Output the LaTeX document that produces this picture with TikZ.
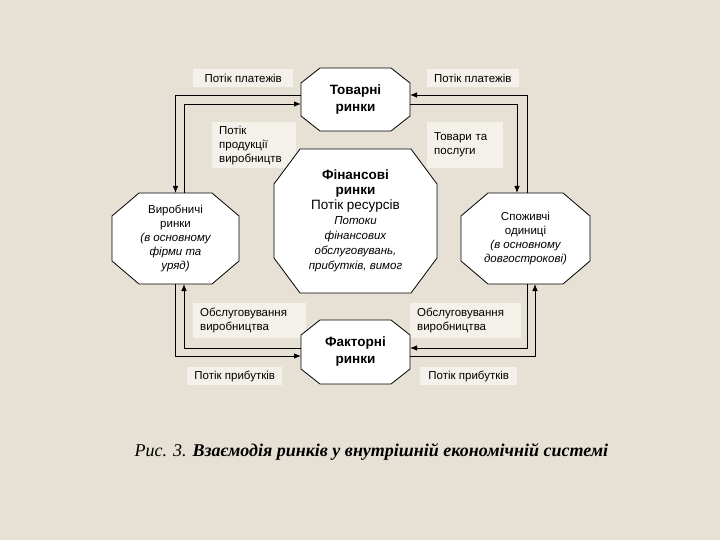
\documentclass[tikz,border=0pt]{standalone}
\usepackage{fontspec}
\setmainfont{Liberation Sans}
\newfontfamily\capfont{Liberation Serif}
\usetikzlibrary{arrows.meta}
\definecolor{bg}{HTML}{E7E0D4}
\definecolor{lbl}{HTML}{F4F1EB}
\newcommand\bigf{\fontsize{13.5}{16.5}\selectfont}
\newcommand\smf{\fontsize{11.5}{15}\selectfont}
\tikzset{
  oct/.style={draw=black, line width=0.8pt, fill=white},
  arr/.style={line width=0.8pt, -{Latex[length=7pt,width=5.5pt]}},
  lab/.style={fill=lbl, anchor=north west, align=left, inner xsep=7pt, inner ysep=3pt, font=\fontsize{11.5}{14}\selectfont},
  ttl/.style={align=center, font=\fontsize{13.5}{17}\selectfont\bfseries},
  hold/.style={inner sep=0pt, outer sep=0pt, draw=none}
}
% name, x1, y1, x2, y2, cx, cy
\newcommand\octshape[7]{%
  \draw[oct] ({#2+#6},#3) -- ({#4-#6},#3) -- (#4,{#3+#7}) -- (#4,{#5-#7}) -- ({#4-#6},#5) -- ({#2+#6},#5) -- (#2,{#5-#7}) -- (#2,{#3+#7}) -- cycle;
  \node[hold, minimum width={(#4-#2)*1pt}, minimum height={(#5-#3)*1pt}] (#1) at ({(#2+#4)/2},{(#3+#5)/2}) {};
}
\begin{document}
\begin{tikzpicture}[x=1pt,y=-1pt]
\fill[bg] (0,0) rectangle (720,540);
\useasboundingbox (0,0) rectangle (720,540);
% labels
\node[lab, minimum width=100pt, minimum height=18pt] (l1) at (193,69) {Потік платежів};
\node[lab, minimum width=91pt, minimum height=18pt] (l2) at (427,69) {Потік платежів};
\node[lab, minimum width=81pt, minimum height=46pt, text width=70pt] (l3) at (212,122) {Потік\\продукції\\виробництв};
\node[lab, minimum width=73pt, minimum height=46pt, text width=62pt] (l4) at (427,122) {Товари та\\послуги};
\node[lab, minimum width=110pt, minimum height=35pt, text width=99pt] (l5) at (193,303) {Обслуговування\\виробництва};
\node[lab, minimum width=108pt, minimum height=35pt, text width=97pt] (l6) at (410,303) {Обслуговування\\виробництва};
\node[lab, minimum width=95pt, minimum height=18pt] (l7) at (187,367) {Потік прибутків};
\node[lab, minimum width=97pt, minimum height=18pt] (l8) at (420,367) {Потік прибутків};
% octagons
\octshape{top}{301}{68}{410}{131}{19}{15}
\octshape{bot}{301}{320}{410}{384}{19}{15}
\octshape{ctr}{274}{149}{437}{293}{26}{35}
\octshape{left}{112}{193}{239}{284}{27}{23}
\octshape{right}{461}{193}{590}{284}{27}{23}
\node[ttl] (ttop) at (top) {Товарні\\ринки};
\node[ttl] (tbot) at (bot) {Факторні\\ринки};
\node[align=center, font=\smf] (tctr) at (ctr) {\bigf\bfseries Фінансові\\\bigf\bfseries ринки\\\bigf\mdseries Потік ресурсів\\\smf\mdseries\itshape Потоки\\\smf\itshape фінансових\\\smf\itshape обслуговувань,\\\smf\itshape прибутків, вимог};
\node[align=center, font=\fontsize{11.5}{14}\selectfont] (tleft) at (left) {Виробничі\\ринки\\\itshape (в основному\\\itshape фірми та\\\itshape уряд)};
\node[align=center, font=\fontsize{11.5}{14}\selectfont] (tright) at (right) {Споживчі\\одиниці\\\itshape (в основному\\\itshape довгострокові)};
% connectors
\draw[arr] ([yshift=4.5pt]top.west) -| (left.north);
\draw[arr] ([xshift=8.5pt]left.north) |- ([yshift=-4.5pt]top.west);
\draw[arr] ([xshift=1.5pt]right.north) |- ([yshift=4.5pt]top.east);
\draw[arr] ([yshift=-4.5pt]top.east) -| ([xshift=-8.5pt]right.north);
\draw[arr] ([yshift=4pt]bot.west) -| ([xshift=8.5pt]left.south);
\draw[arr] (left.south) |- ([yshift=-4pt]bot.west);
\draw[arr] ([xshift=1.5pt]right.south) |- ([yshift=4pt]bot.east);
\draw[arr] ([yshift=-4pt]bot.east) -| ([xshift=9.5pt]right.south);
% caption
\node[anchor=west, font=\capfont\fontsize{18}{20}\selectfont\itshape] (cap) at (131,452) {Рис. 3. \textbf{Взаємодія ринків у внутрішній економічній системі}};
\end{tikzpicture}
\end{document}
